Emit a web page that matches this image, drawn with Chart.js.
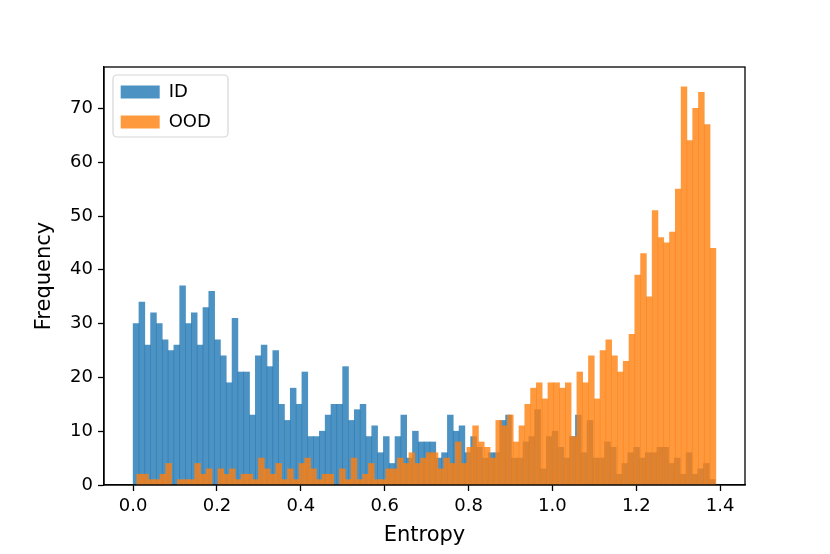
<!DOCTYPE html>
<html>
<head>
<meta charset="utf-8">
<script src="https://cdn.jsdelivr.net/npm/chart.js@4/dist/chart.umd.min.js"></script>
<style>
html, body { margin: 0; padding: 0; background: #ffffff; }
#wrap { width: 830px; height: 554px; }
</style>
</head>
<body>
<div id="wrap"><canvas id="c" width="830" height="554"></canvas></div>
<script>
// ---- data (histogram counts, 100 bins each) ----
const seriesNames = ['ID', 'OOD'];
const idBinRange = [0.0, 1.388];
const oodBinRange = [0.0088, 1.3898];
const idCounts = [
  30, 34, 26, 32, 30, 27, 25, 26, 37, 30,
  32, 26, 33, 36, 27, 24, 19, 31, 21, 21,
  13, 24, 26, 22, 25, 15, 12, 18, 15, 21,
  9, 9, 10, 13, 15, 15, 22, 12, 14, 15,
  9, 11, 6, 9, 4, 9, 13, 5, 10, 8,
  8, 8, 5, 6, 13, 10, 11, 6, 9, 7,
  5, 6, 6, 12, 13, 5, 5, 8, 9, 14,
  3, 9, 10, 7, 5, 9, 13, 6, 12, 5,
  5, 8, 7, 2, 4, 6, 7, 5, 6, 6,
  7, 7, 4, 5, 2, 6, 2, 3, 4, 1
];
const oodCounts = [
  2, 2, 1, 1, 2, 4, 0, 1, 1, 1,
  4, 2, 3, 0, 3, 2, 3, 1, 2, 2,
  1, 5, 3, 2, 4, 1, 3, 1, 4, 5,
  3, 1, 2, 2, 0, 3, 1, 5, 1, 2,
  4, 1, 1, 3, 3, 5, 4, 6, 4, 5,
  6, 6, 3, 5, 4, 8, 4, 7, 11, 8,
  7, 5, 12, 11, 13, 8, 11, 15, 18, 19,
  16, 19, 19, 18, 19, 9, 21, 19, 24, 16,
  25, 27, 24, 21, 23, 28, 39, 43, 35, 51,
  46, 45, 47, 55, 74, 64, 70, 73, 67, 44
];
const xTicks = [0.0, 0.2, 0.4, 0.6, 0.8, 1.0, 1.2, 1.4];
const yTicks = [0, 10, 20, 30, 40, 50, 60, 70];
const xLabel = 'Entropy';
const yLabel = 'Frequency';
const xRange = [-0.0695, 1.4593];
const yRange = [0, 77.7];

// bin centres from the bin ranges
function binCentres(range, n) {
  const w = (range[1] - range[0]) / n;
  const out = [];
  for (let i = 0; i < n; i++) out.push(range[0] + (i + 0.5) * w);
  return out;
}
const idX = binCentres(idBinRange, idCounts.length);
const oodX = binCentres(oodBinRange, oodCounts.length);

const FONT = 'DejaVu Sans';

const frameAndLegendBox = {
  id: 'frameAndLegendBox',
  afterLayout(chart) {
    const lg = chart.legend, a = chart.chartArea;
    if (lg) {
      const w = lg.width, h = lg.height;
      lg.left = a.left + 4.7; lg.top = a.top + 4;
      lg.right = lg.left + w; lg.bottom = lg.top + h;
    }
  },
  beforeDraw(chart) {
    const ctx = chart.ctx, a = chart.chartArea;
    const x = a.left + 9, y = a.top + 8, w = 115, h = 62, r = 4;
    ctx.save();
    ctx.beginPath();
    ctx.moveTo(x + r, y);
    ctx.arcTo(x + w, y, x + w, y + h, r);
    ctx.arcTo(x + w, y + h, x, y + h, r);
    ctx.arcTo(x, y + h, x, y, r);
    ctx.arcTo(x, y, x + w, y, r);
    ctx.closePath();
    ctx.fillStyle = 'rgba(255,255,255,0.8)';
    ctx.fill();
    ctx.strokeStyle = '#d6d6d6';
    ctx.lineWidth = 1.2;
    ctx.stroke();
    ctx.restore();
  },
  afterDraw(chart) {
    const ctx = chart.ctx, a = chart.chartArea;
    ctx.save();
    ctx.strokeStyle = '#000000';
    ctx.lineWidth = 1.3;
    ctx.strokeRect(a.left, a.top, a.right - a.left, a.bottom - a.top);
    ctx.restore();
  }
};

new Chart(document.getElementById('c'), {
  type: 'bar',
  data: {
    datasets: [
      {
        label: seriesNames[0],
        data: idCounts.map((v, i) => ({ x: idX[i], y: v })),
        xAxisID: 'x', yAxisID: 'y',
        backgroundColor: 'rgba(31,119,180,0.8)',
        borderWidth: 0,
        barPercentage: 1, categoryPercentage: 1, grouped: false,
        order: 1
      },
      {
        label: seriesNames[1],
        data: oodCounts.map((v, i) => ({ x: oodX[i], y: v })),
        xAxisID: 'x2', yAxisID: 'y',
        backgroundColor: 'rgba(255,127,14,0.8)',
        borderWidth: 0,
        barPercentage: 1, categoryPercentage: 1, grouped: false,
        order: 0
      }
    ]
  },
  options: {
    responsive: false,
    animation: false,
    devicePixelRatio: 1,
    layout: { padding: { top: 67, right: 85, left: 0, bottom: 0 } },
    plugins: {
      tooltip: { enabled: false },
      legend: {
        position: 'chartArea',
        align: 'start',
        labels: {
          sort: (a, b) => a.datasetIndex - b.datasetIndex,
          boxWidth: 39, boxHeight: 13, padding: 12,
          color: '#000000',
          font: { family: FONT, size: 18 }
        }
      }
    },
    scales: {
      x: {
        type: 'linear', position: 'bottom', offset: false,
        min: xRange[0], max: xRange[1],
        afterBuildTicks: s => { s.ticks = xTicks.map(v => ({ value: v })); },
        afterFit: s => { s.height = 69; },
        ticks: {
          autoSkip: false, maxRotation: 0, padding: 5,
          color: '#000000', font: { family: FONT, size: 18 },
          callback: v => Number(v).toFixed(1)
        },
        grid: { offset: false, drawOnChartArea: false, drawTicks: true, tickLength: 6, tickColor: '#000000', tickWidth: 1.3 },
        border: { display: true, color: '#000000', width: 1.3 },
        title: { display: true, text: xLabel, color: '#000000', font: { family: FONT, size: 21 }, padding: { top: 0, bottom: 6 } }
      },
      x2: {
        type: 'linear', display: false, offset: false,
        min: xRange[0], max: xRange[1],
        grid: { offset: false }
      },
      y: {
        type: 'linear', position: 'left',
        min: yRange[0], max: yRange[1],
        afterBuildTicks: s => { s.ticks = yTicks.map(v => ({ value: v })); },
        afterFit: s => { s.width = 104; },
        ticks: {
          autoSkip: false, padding: 5,
          color: '#000000', font: { family: FONT, size: 18 },
          callback: v => String(v)
        },
        grid: { drawOnChartArea: false, drawTicks: true, tickLength: 6, tickColor: '#000000', tickWidth: 1.3 },
        border: { display: true, color: '#000000', width: 1.3 },
        title: { display: true, text: yLabel, color: '#000000', font: { family: FONT, size: 21 }, padding: { top: 32, bottom: 0 } }
      }
    }
  },
  plugins: [frameAndLegendBox]
});
</script>
</body>
</html>
